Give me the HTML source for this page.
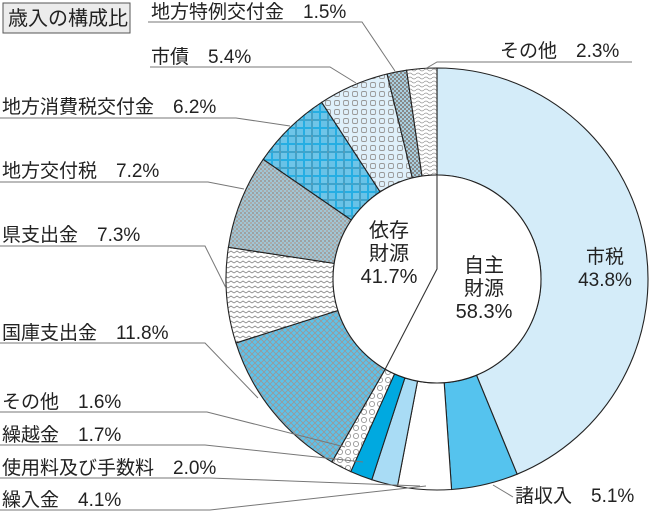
<!DOCTYPE html>
<html><head><meta charset="utf-8"><style>
html,body{margin:0;padding:0;background:#fff}
svg{display:block;font-family:"Liberation Sans","Noto Sans CJK JP",sans-serif}
</style></head><body>
<svg width="650" height="526" viewBox="0 0 650 526">
<defs>
 <pattern id="p-hex" width="8" height="8" patternUnits="userSpaceOnUse"><rect width="8" height="8" fill="#fff"/><circle cx="4" cy="4" r="2.6" fill="none" stroke="#999" stroke-width="0.9"/></pattern>
 <pattern id="p-cross" width="6" height="6" patternUnits="userSpaceOnUse"><rect width="6" height="6" fill="#5dc2ea"/><path d="M0 0L6 6M6 0L0 6" stroke="#999" stroke-width="0.9"/></pattern>
 <pattern id="p-zig" width="6" height="5" patternUnits="userSpaceOnUse"><rect width="6" height="5" fill="#fff"/><path d="M0 3L3 1L6 3" fill="none" stroke="#888" stroke-width="0.9"/></pattern>
 <pattern id="p-grey" width="4" height="4" patternUnits="userSpaceOnUse"><rect width="4" height="4" fill="#9fc6d6"/><rect width="2" height="2" fill="#a0a0a0"/><rect x="2" y="2" width="2" height="2" fill="#aaa"/></pattern>
 <pattern id="p-weave" width="16" height="16" patternUnits="userSpaceOnUse"><rect width="16" height="16" fill="#25aee3"/><path d="M1 2H7M1 4H7M1 6H7M10 1V7M12 1V7M14 1V7M2 9V15M4 9V15M6 9V15M9 10H15M9 12H15M9 14H15" stroke="#b9dcec" stroke-width="0.9"/><path d="M0 8H16M8 0V16" stroke="#888" stroke-width="0.6"/></pattern>
 <pattern id="p-circ" width="9" height="9" patternUnits="userSpaceOnUse"><rect width="9" height="9" fill="#dff0fa"/><rect x="1.5" y="1.5" width="5" height="5" rx="1.5" fill="none" stroke="#999" stroke-width="0.9"/></pattern>
 <pattern id="p-check" width="4" height="4" patternUnits="userSpaceOnUse"><rect width="4" height="4" fill="#a8cfe0"/><rect width="2" height="2" fill="#888"/><rect x="2" y="2" width="2" height="2" fill="#888"/></pattern>
 <pattern id="p-wave" width="8" height="4" patternUnits="userSpaceOnUse"><rect width="8" height="4" fill="#fff"/><path d="M0 2Q2 0 4 2T8 2" fill="none" stroke="#999" stroke-width="0.8"/></pattern>
</defs>
<g>
 <rect x="3" y="3" width="127" height="30" fill="#ececec" stroke="#555" stroke-width="1"/>
 <text x="8" y="25" font-size="20" fill="#222">歳入の構成比</text>
</g>
<g id="slices"></g>
<g id="inner"></g>
<g fill="none" stroke="#777" stroke-width="1">
 <path d="M148 22H362L395 71"/>
 <path d="M425 69L437 62H632"/>
 <path d="M150 67H330L356 83"/>
 <path d="M0 118H236L290 126"/>
 <path d="M0 182H208L244 189"/>
 <path d="M0 246H205L226 288"/>
 <path d="M0 343H205L258 398"/>
 <path d="M0 412H207L345 447"/>
 <path d="M0 445H205L363 462"/>
 <path d="M0 478H210L420 486"/>
 <path d="M0 510H210L426 486"/>
 <path d="M493 485L513 497"/>
</g>
<g font-size="19" fill="#222">
 <text x="151" y="18">地方特例交付金　1.5%</text>
 <text x="500" y="57">その他　2.3%</text>
 <text x="151" y="63">市債　5.4%</text>
 <text x="2" y="113">地方消費税交付金　6.2%</text>
 <text x="2" y="177">地方交付税　7.2%</text>
 <text x="2" y="241">県支出金　7.3%</text>
 <text x="2" y="339">国庫支出金　11.8%</text>
 <text x="2" y="408">その他　1.6%</text>
 <text x="2" y="441">繰越金　1.7%</text>
 <text x="2" y="474">使用料及び手数料　2.0%</text>
 <text x="2" y="506">繰入金　4.1%</text>
 <text x="515" y="502">諸収入　5.1%</text>
 <text x="605" y="263" text-anchor="middle">市税<tspan x="605" dy="23">43.8%</tspan></text>
 <text x="389" y="237" text-anchor="middle" font-size="20">依存<tspan x="389" dy="23">財源</tspan><tspan x="389" dy="23">41.7%</tspan></text>
 <text x="484" y="272" text-anchor="middle" font-size="20">自主<tspan x="484" dy="23">財源</tspan><tspan x="484" dy="23">58.3%</tspan></text>
</g>
<script>
const categories=["市税","諸収入","繰入金","使用料及び手数料","繰越金","その他","国庫支出金","県支出金","地方交付税","地方消費税交付金","市債","地方特例交付金","その他2"];
const values=[43.8,5.1,4.1,2.0,1.7,1.6,11.8,7.3,7.2,6.2,5.4,1.5,2.3];
const fills=["#d4ecf9","#55c3ee","#fff","#a9dcf5","#00a9e0","url(#p-hex)","url(#p-cross)","url(#p-zig)","url(#p-grey)","url(#p-weave)","url(#p-circ)","url(#p-check)","url(#p-wave)"];
const jishuShare=[58.3];
const CX=437,CY=279,R=211,RI=104;
const NS="http://www.w3.org/2000/svg";
const total=values.reduce((a,b)=>a+b,0);
function pt(frac,r){const a=frac*2*Math.PI;return [CX+r*Math.sin(a),CY-r*Math.cos(a)];}
const g=document.getElementById('slices');
let acc=0;
values.forEach((v,i)=>{
 const f0=acc/total,f1=(acc+v)/total;acc+=v;
 const [x0,y0]=pt(f0,R),[x1,y1]=pt(f1,R),[x2,y2]=pt(f1,RI),[x3,y3]=pt(f0,RI);
 const lg=(f1-f0)>0.5?1:0;
 const p=document.createElementNS(NS,'path');
 p.setAttribute('d',`M${x0} ${y0}A${R} ${R} 0 ${lg} 1 ${x1} ${y1}L${x2} ${y2}A${RI} ${RI} 0 ${lg} 0 ${x3} ${y3}Z`);
 p.setAttribute('fill',fills[i]);
 p.setAttribute('stroke','#222');
 p.setAttribute('stroke-width','1.1');
 
 
 g.appendChild(p);
});
const ig=document.getElementById('inner');
const c=document.createElementNS(NS,'circle');
c.setAttribute('cx',CX);c.setAttribute('cy',CY);c.setAttribute('r',RI);
c.setAttribute('fill','#fff');c.setAttribute('stroke','#222');c.setAttribute('stroke-width','1.1');


ig.appendChild(c);
const [tx,ty]=pt(0,RI),[bx,by]=pt(jishuShare[0]/100,RI);
const ln=document.createElementNS(NS,'path');
ln.setAttribute('d',`M${tx} ${ty}L${CX} ${CY-10}L${bx} ${by}`);
ln.setAttribute('fill','none');ln.setAttribute('stroke','#333');ln.setAttribute('stroke-width','1.1');


ig.appendChild(ln);
</script>
</svg>
</body></html>
